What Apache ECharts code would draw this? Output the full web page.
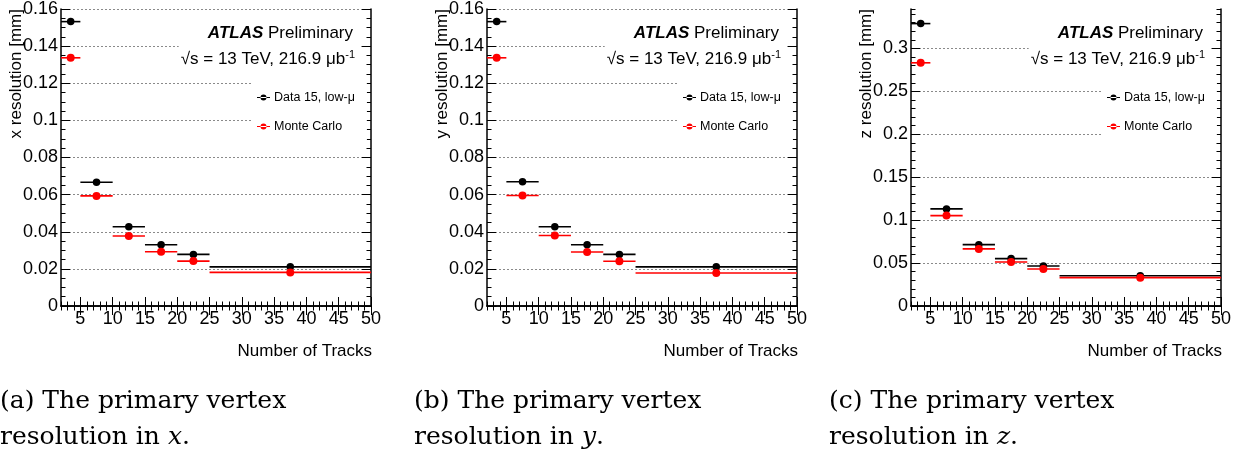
<!DOCTYPE html>
<html>
<head>
<meta charset="utf-8">
<script src="https://cdn.jsdelivr.net/npm/echarts@6/dist/echarts.min.js"></script>
<style>
html, body { margin: 0; padding: 0; background: #fff; }
#main { width: 1241px; height: 454px; }
</style>
</head>
<body>
<div id="main"></div>
<script>
// bins in number of tracks
var binLow = [2, 5, 10, 15, 20, 25];
var binHigh = [5, 10, 15, 20, 25, 50];
var binCenter = [3.5, 7.5, 12.5, 17.5, 22.5, 37.5];

// resolutions [mm]
var xResData = [0.1532, 0.0667, 0.0427, 0.0330, 0.0278, 0.0211];
var xResMC = [0.1337, 0.0593, 0.0377, 0.0292, 0.0242, 0.0181];
var yResData = [0.1532, 0.0669, 0.0427, 0.0330, 0.0278, 0.0211];
var yResMC = [0.1337, 0.0595, 0.0380, 0.0291, 0.0241, 0.0178];
var zResData = [0.3290, 0.1131, 0.0715, 0.0552, 0.0466, 0.0353];
var zResMC = [0.2833, 0.1053, 0.0665, 0.0513, 0.0431, 0.0330];

// tick labels
var xTicks = [5, 10, 15, 20, 25, 30, 35, 40, 45, 50];
var yTicksXY = [0, 0.02, 0.04, 0.06, 0.08, 0.1, 0.12, 0.14, 0.16];
var yTicksZ = [0, 0.05, 0.1, 0.15, 0.2, 0.25, 0.3];

var dataName = 'Data 15, low-\u03bc';
var mcName = 'Monte Carlo';

var panels = [
    {left: 61, title: 'x resolution [mm]', data: xResData, mc: xResMC, yMax: 0.16, yTicks: yTicksXY, yMinor: 0.005, cap: '(a)', v: 'x', capX: 0},
    {left: 487, title: 'y resolution [mm]', data: yResData, mc: yResMC, yMax: 0.16, yTicks: yTicksXY, yMinor: 0.005, cap: '(b)', v: 'y', capX: 414},
    {left: 911, title: 'z resolution [mm]', data: zResData, mc: zResMC, yMax: 0.346, yTicks: yTicksZ, yMinor: 0.01, cap: '(c)', v: 'z', capX: 829}
];

var font = 'Liberation Sans, Arial, sans-serif';
var serif = 'DejaVu Serif, serif';
var frame = {lineStyle: {color: '#000', width: 1.5}};

function rows(vals) {
    return binCenter.map(function (c, i) { return [c, vals[i], binLow[i], binHigh[i]]; });
}

function binLine(color) {
    return function (params, api) {
        var y = api.value(1);
        var p1 = api.coord([api.value(2), y]);
        var p2 = api.coord([api.value(3), y]);
        return {
            type: 'line',
            shape: {x1: p1[0], y1: p1[1], x2: p2[0], y2: p2[1]},
            style: {stroke: color, lineWidth: 1.6}
        };
    };
}

var grids = [], xAxes = [], yAxes = [], series = [], legends = [], graphics = [];

panels.forEach(function (p, g) {
    grids.push({left: p.left, top: 9, width: 310, height: 297});

    // x axes: bottom major, bottom minor, top major, top minor
    xAxes.push({
        type: 'value', gridIndex: g, position: 'bottom', min: 2, max: 50,
        axisLine: frame, splitLine: {show: false},
        axisTick: {inside: true, length: 9, customValues: xTicks, lineStyle: {color: '#000'}},
        axisLabel: {customValues: xTicks, color: '#000', fontSize: 18, fontFamily: font, margin: 4}
    });
    xAxes.push({
        type: 'value', gridIndex: g, position: 'bottom', min: 2, max: 50, interval: 1,
        axisLine: {show: false}, splitLine: {show: false}, axisLabel: {show: false},
        axisTick: {inside: true, length: 4.5, lineStyle: {color: '#000'}}
    });
    xAxes.push({
        type: 'value', gridIndex: g, position: 'top', min: 2, max: 50,
        axisLine: frame, splitLine: {show: false}, axisLabel: {show: false},
        axisTick: {inside: true, length: 9, customValues: xTicks, lineStyle: {color: '#000'}}
    });
    xAxes.push({
        type: 'value', gridIndex: g, position: 'top', min: 2, max: 50, interval: 1,
        axisLine: {show: false}, splitLine: {show: false}, axisLabel: {show: false},
        axisTick: {inside: true, length: 4.5, lineStyle: {color: '#000'}}
    });

    // y axes: left major, left minor, right major, right minor
    yAxes.push({
        type: 'value', gridIndex: g, position: 'left', min: 0, max: p.yMax,
        axisLine: frame,
        splitLine: {show: true, customValues: p.yTicks, lineStyle: {color: '#8a8a8a', type: [2, 2], width: 1}},
        axisTick: {inside: true, length: 9, customValues: p.yTicks, lineStyle: {color: '#000'}},
        axisLabel: {customValues: p.yTicks, color: '#000', fontSize: 18, fontFamily: font, margin: 3}
    });
    yAxes.push({
        type: 'value', gridIndex: g, position: 'left', min: 0, max: p.yMax, interval: p.yMinor,
        axisLine: {show: false}, splitLine: {show: false}, axisLabel: {show: false},
        axisTick: {inside: true, length: 4.5, lineStyle: {color: '#000'}}
    });
    yAxes.push({
        type: 'value', gridIndex: g, position: 'right', min: 0, max: p.yMax,
        axisLine: frame, splitLine: {show: false}, axisLabel: {show: false},
        axisTick: {inside: true, length: 9, customValues: p.yTicks, lineStyle: {color: '#000'}}
    });
    yAxes.push({
        type: 'value', gridIndex: g, position: 'right', min: 0, max: p.yMax, interval: p.yMinor,
        axisLine: {show: false}, splitLine: {show: false}, axisLabel: {show: false},
        axisTick: {inside: true, length: 4.5, lineStyle: {color: '#000'}}
    });

    var xi = g * 4, yi = g * 4;
    series.push({
        name: dataName, type: 'custom', xAxisIndex: xi, yAxisIndex: yi,
        renderItem: binLine('#000'), itemStyle: {color: '#000'},
        data: rows(p.data), encode: {x: 0, y: 1}, z: 3
    });
    series.push({
        name: mcName, type: 'custom', xAxisIndex: xi, yAxisIndex: yi,
        renderItem: binLine('#ff0000'), itemStyle: {color: '#ff0000'},
        data: rows(p.mc), encode: {x: 0, y: 1}, z: 3
    });
    series.push({
        name: dataName, type: 'scatter', xAxisIndex: xi, yAxisIndex: yi,
        symbolSize: 7.5, itemStyle: {color: '#000', opacity: 1},
        data: rows(p.data), encode: {x: 0, y: 1}, z: 4
    });
    series.push({
        name: mcName, type: 'scatter', xAxisIndex: xi, yAxisIndex: yi,
        symbolSize: 8, itemStyle: {color: '#ff0000', opacity: 1},
        data: rows(p.mc), encode: {x: 0, y: 1}, z: 5
    });

    legends.push({
        data: [dataName, mcName], orient: 'vertical',
        left: p.left + 192, top: 82,
        backgroundColor: '#fff', padding: [8, 12, 8, 4],
        itemWidth: 13, itemHeight: 6, itemGap: 14,
        icon: 'path://M0,2.4h13v1.2h-13z M3.5,3a3,3 0 1,0 6,0a3,3 0 1,0 -6,0z',
        selectedMode: false,
        textStyle: {color: '#000', fontSize: 12.5, fontFamily: font, lineHeight: 15, padding: [0, 0, 0, -1]}
    });

    // axis titles
    graphics.push({
        type: 'text', x: p.left - 45, y: 9, rotation: Math.PI / 2,
        style: {text: p.title, fill: '#000', font: '17px ' + font, align: 'right', verticalAlign: 'middle'}
    });
    graphics.push({
        type: 'text', x: p.left + 311, y: 351,
        style: {text: 'Number of Tracks', fill: '#000', font: '17px ' + font, align: 'right', verticalAlign: 'middle'}
    });
    // ATLAS label
    graphics.push({
        type: 'text', x: p.left + 292, y: 33, z: 10,
        style: {
            text: '{a|ATLAS} Preliminary', fill: '#000', font: '17px ' + font,
            align: 'right', verticalAlign: 'middle',
            rich: {a: {fontWeight: 'bold', fontStyle: 'italic', fontSize: 17, fontFamily: font}}
        }
    });
    graphics.push({
        type: 'text', x: p.left + 300, y: 59.5, z: 10,
        style: {
            text: '\u221as = 13 TeV, 216.9 \u03bcb{s|-1}', fill: '#000', font: '17px ' + font,
            align: 'right', verticalAlign: 'middle', lineHeight: 20,
            backgroundColor: '#fff', padding: [5, 6, 5, 2],
            rich: {s: {fontSize: 11, fontFamily: font, verticalAlign: 'top', lineHeight: 20}}
        }
    });
    // caption
    graphics.push({
        type: 'text', x: p.capX, y: 401,
        style: {
            text: p.cap + ' The primary vertex', fill: '#000', font: '25px ' + serif,
            align: 'left', verticalAlign: 'middle'
        }
    });
    graphics.push({
        type: 'text', x: p.capX, y: 437,
        style: {
            text: 'resolution in {i|' + p.v + '}.', fill: '#000', font: '25px ' + serif,
            align: 'left', verticalAlign: 'middle',
            rich: {i: {fontStyle: 'italic', fontSize: 25, fontFamily: serif}}
        }
    });
});

var myChart = echarts.init(document.getElementById('main'));
var option = {
    animation: false,
    backgroundColor: '#fff',
    grid: grids,
    xAxis: xAxes,
    yAxis: yAxes,
    legend: legends,
    graphic: graphics,
    series: series
};
myChart.setOption(option);
</script>
</body>
</html>
